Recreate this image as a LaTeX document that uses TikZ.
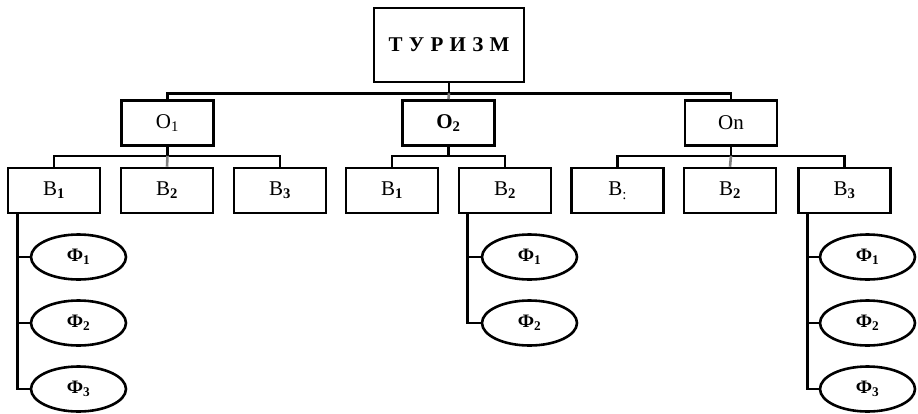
\documentclass[tikz,border=0pt]{standalone}
\usepackage{fontspec}
\setmainfont{Liberation Serif}
\usetikzlibrary{shapes.geometric,calc}
\begin{document}
\begin{tikzpicture}[x=1pt,y=-1pt,
  box/.style={draw,line width=2.6pt,rectangle,inner sep=0pt,minimum width=92pt,minimum height=45pt,font=\fontsize{21}{23}\selectfont},
  topbox/.style={box,minimum width=150pt,minimum height=74pt},
  oval/.style={draw,line width=2.6pt,ellipse,inner sep=0pt,minimum width=95pt,minimum height=45pt,font=\fontsize{19}{21}\selectfont\bfseries},
  conn/.style={line width=2.6pt},
  mid/.style={line width=2.6pt,draw=gray}]
\useasboundingbox (0,0) rectangle (918,413);
% top
\node[topbox] (top) at (449,45) {\textbf{Т\hspace{0.3em}У\hspace{0.3em}Р\hspace{0.3em}И\hspace{0.3em}З\hspace{0.3em}М}};
% second level
\node[box] (o1) at (167.5,123) {O\textsubscript{1}};
\node[box] (o2) at (448.5,123) {\textbf{O\textsubscript{2}}};
\node[box] (on) at (731,123) {On};
% third level
\node[box] (b11) at (54,190.5) {B\textsubscript{\textbf{1}}};
\node[box] (b12) at (167,190.5) {B\textsubscript{\textbf{2}}};
\node[box] (b13) at (280,190.5) {B\textsubscript{\textbf{3}}};
\node[box] (b21) at (392,190.5) {B\textsubscript{\textbf{1}}};
\node[box] (b22) at (505,190.5) {B\textsubscript{\textbf{2}}};
\node[box] (bn1) at (617.5,190.5) {B\raisebox{-4pt}{\fontsize{15}{15}\selectfont :}\hspace{0.3em}};
\node[box] (bn2) at (730,190.5) {B\textsubscript{\textbf{2}}};
\node[box] (bn3) at (844.5,190.5) {B\textsubscript{\textbf{3}}};
% ovals
\node[oval] (f11) at (78.5,257) {Ф\textsubscript{1}};
\node[oval] (f12) at (78.5,323) {Ф\textsubscript{2}};
\node[oval] (f13) at (78.5,389) {Ф\textsubscript{3}};
\node[oval] (f21) at (529.5,257) {Ф\textsubscript{1}};
\node[oval] (f22) at (529.5,323) {Ф\textsubscript{2}};
\node[oval] (fn1) at (867.5,257) {Ф\textsubscript{1}};
\node[oval] (fn2) at (867.5,323) {Ф\textsubscript{2}};
\node[oval] (fn3) at (867.5,389) {Ф\textsubscript{3}};
% top connectors
\coordinate (h0) at ($(top.south)+(0,10)$);
\draw[conn] (top.south) -- (h0);
\draw[conn] (o1.north) |- (h0) -| (on.north);
\draw[mid] (h0) -- (o2.north);
% O1 children
\coordinate (h1) at ($(o1.south)+(0,9)$);
\draw[conn] (o1.south) -- (h1);
\draw[conn] (b11.north) |- (h1) -| (b13.north);
\draw[mid] (h1) -- (b12.north);
% O2 children
\coordinate (h2) at ($(o2.south)+(0,9)$);
\draw[conn] (o2.south) -- (h2);
\draw[conn] (b21.north) |- (h2) -| (b22.north);
% On children
\coordinate (h3) at ($(on.south)+(0,9)$);
\draw[conn] (on.south) -- (h3);
\draw[conn] (bn1.north) |- (h3) -| (bn3.north);
\draw[mid] (h3) -- (bn2.north);
% oval branches
\coordinate (s1) at ($(b11.south west)+(11,0)$);
\draw[conn] (s1) |- (f11.west);
\draw[conn] (s1) |- (f12.west);
\draw[conn] (s1) |- (f13.west);
\coordinate (s2) at ($(b22.south west)+(10,0)$);
\draw[conn] (s2) |- (f21.west);
\draw[conn] (s2) |- (f22.west);
\coordinate (s3) at ($(bn3.south west)+(10,0)$);
\draw[conn] (s3) |- (fn1.west);
\draw[conn] (s3) |- (fn2.west);
\draw[conn] (s3) |- (fn3.west);
\end{tikzpicture}
\end{document}
